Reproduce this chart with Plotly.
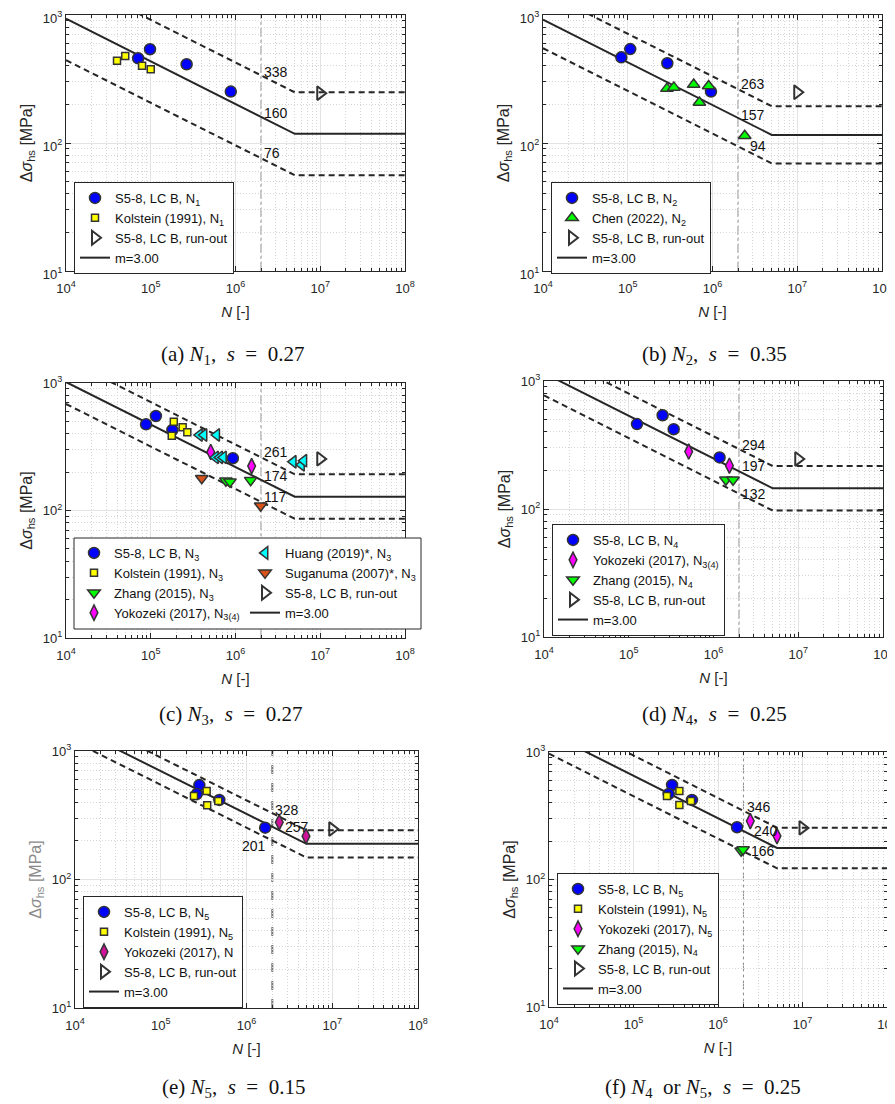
import math
import plotly.graph_objects as go

# The page body has an 8px default margin, so the figure is drawn 8px in from the top-left.
PAGE_W, PAGE_H = 895, 1104
OFF = 8
W, H = PAGE_W - OFF, PAGE_H - OFF


def fx(px):
    return (px - OFF) / W


def fy(py):
    return 1 - (py - OFF) / H


# ---------------- shared constants ----------------
N_REF = 2e6          # reference number of cycles (detail category)
N_KNEE = 5e6         # constant-amplitude fatigue limit
M_SLOPE = 3.0
N_MIN, N_MAX = 1e4, 1e8
CURVE_N = [N_MIN, N_KNEE, N_MAX]

X_TICKS = [1e4, 1e5, 1e6, 1e7, 1e8]
X_TICKTEXT = ["10<sup>4</sup>", "10<sup>5</sup>", "10<sup>6</sup>", "10<sup>7</sup>", "10<sup>8</sup>"]
Y_TICKS = [10, 100, 1000]
Y_TICKTEXT = ["10<sup>1</sup>", "10<sup>2</sup>", "10<sup>3</sup>"]

# ---------------- panel (a) N1 ----------------
A_S58_N = [7.1e4, 9.8e4, 2.65e5, 8.8e5]
A_S58_S = [459, 540, 412, 252]
A_KOL_N = [4.0e4, 5.0e4, 7.9e4, 1.0e5]
A_KOL_S = [440, 479, 402, 377]
A_RUN_N = [1.0e7]
A_RUN_S = [245]
A_CAT = [338, 160, 76]

# ---------------- panel (b) N2 ----------------
B_S58_N = [8.4e4, 1.07e5, 2.93e5, 9.6e5]
B_S58_S = [467, 542, 420, 252]
B_CHEN_N = [2.9e5, 3.5e5, 6.0e5, 7.0e5, 9.0e5, 2.4e6]
B_CHEN_S = [266, 272, 286, 207, 279, 114]
B_RUN_N = [1.0e7]
B_RUN_S = [249]
B_CAT = [263, 157, 94]

# ---------------- panel (c) N3 ----------------
C_S58_N = [8.8e4, 1.15e5, 1.8e5, 9.3e5]
C_S58_S = [474, 551, 428, 257]
C_KOL_N = [1.87e5, 1.77e5, 2.38e5, 2.7e5]
C_KOL_S = [497, 386, 449, 410]
C_ZHANG_N = [7.7e5, 8.6e5, 1.51e6]
C_ZHANG_S = [171, 168, 173]
C_YOKO_N = [5.1e5, 1.55e6]
C_YOKO_S = [288, 223]
C_HUANG_N = [3.75e5, 4.25e5, 6.0e5, 5.8e5, 6.5e5, 7.2e5, 4.8e6, 6.0e6, 6.4e6]
C_HUANG_S = [391, 391, 391, 261, 261, 261, 241, 228, 246]
C_SUGA_N = [4.0e5, 1.98e6]
C_SUGA_S = [179, 109]
C_RUN_N = [1.0e7]
C_RUN_S = [254]
C_CAT = [261, 174, 117]

# ---------------- panel (d) N4 ----------------
D_S58_N = [1.25e5, 2.51e5, 3.39e5, 1.18e6]
D_S58_S = [461, 540, 420, 253]
D_YOKO_N = [5.1e5, 1.54e6]
D_YOKO_S = [281, 218]
D_ZHANG_N = [1.40e6, 1.70e6]
D_ZHANG_S = [169, 169]
D_RUN_N = [1.0e7]
D_RUN_S = [246]
D_CAT = [294, 197, 132]

# ---------------- panel (e) N5 ----------------
E_S58_N = [2.82e5, 2.63e5, 4.82e5, 1.65e6]
E_S58_S = [543, 462, 416, 253]
E_KOL_N = [2.44e5, 3.43e5, 3.48e5, 4.69e5]
E_KOL_S = [447, 489, 379, 408]
E_YOKO_N = [2.41e6, 4.94e6]
E_YOKO_S = [279, 217]
E_RUN_N = [1.0e7]
E_RUN_S = [247]
E_CAT = [328, 257, 201]

# ---------------- panel (f) N4 or N5 ----------------
F_S58_N = [2.86e5, 2.61e5, 4.92e5, 1.68e6]
F_S58_S = [551, 469, 421, 257]
F_KOL_N = [2.49e5, 3.49e5, 3.49e5, 4.79e5]
F_KOL_S = [452, 494, 384, 413]
F_YOKO_N = [2.41e6, 4.99e6]
F_YOKO_S = [287, 219]
F_ZHANG_N = [1.88e6, 1.98e6]
F_ZHANG_S = [168, 172]
F_RUN_N = [1.0e7]
F_RUN_S = [254]
F_CAT = [346, 240, 166]

# ---------------- styles ----------------
EDGE = dict(color="#333333", width=1.5)
STY = {
    "S58": dict(symbol="circle", size=11, color="#0000FF", line=EDGE),
    "KOL": dict(symbol="square", size=7, color="#FFFF00", line=EDGE),
    "CHEN": dict(symbol="triangle-up", size=11, color="#00FF00", line=EDGE),
    "ZHANG": dict(symbol="triangle-down", size=11, color="#00FF00", line=EDGE),
    "YOKO": dict(symbol="diamond-tall", size=11, color="#FF00FF", line=EDGE),
    "YOKO_E": dict(symbol="diamond-tall", size=11, color="#D1139B", line=EDGE),
    "HUANG": dict(symbol="triangle-left", size=11, color="#00FFFF", line=EDGE),
    "SUGA": dict(symbol="triangle-down", size=11, color="#D95319", line=EDGE),
    "RUN": dict(symbol="triangle-right-open", size=12, color="#333333", line=dict(color="#333333", width=2)),
}

RUN_NAME = "S5-8, LC B, run-out"
MEAN_NAME = "m=3.00"
SP = "\u00a0"

PANELS = [
    dict(geom=(66, 405, 15, 271), cat=A_CAT, ylab_shift=3,
         series=[("S58", A_S58_N, A_S58_S, "S5-8, LC B, N<sub>1</sub>", "legend"),
                 ("KOL", A_KOL_N, A_KOL_S, "Kolstein (1991), N<sub>1</sub>", "legend"),
                 ("RUN", A_RUN_N, A_RUN_S, RUN_NAME, "legend")],
         mean_leg="legend",
         lab=[(1, 3, "left"), (1, 4, "left"), (1, 5, "left")],
         cap=f"(a) <i>N</i><sub>1</sub>,{SP}{SP}<i>s</i>{SP}{SP}={SP}{SP}0.27", cap_pos=(232, 355),
         vline=dict(color="#8c8c8c", width=1, dash="dashdot"), ytitle_color="#262626"),
    dict(geom=(543, 882, 15, 271), cat=B_CAT, ylab_shift=3,
         series=[("S58", B_S58_N, B_S58_S, "S5-8, LC B, N<sub>2</sub>", "legend2"),
                 ("CHEN", B_CHEN_N, B_CHEN_S, "Chen (2022), N<sub>2</sub>", "legend2"),
                 ("RUN", B_RUN_N, B_RUN_S, RUN_NAME, "legend2")],
         mean_leg="legend2",
         lab=[(1, 5, "left"), (1, 3, "left"), (10, 0, "left")],
         cap=f"(b) <i>N</i><sub>2</sub>,{SP}{SP}<i>s</i>{SP}{SP}={SP}{SP}0.35", cap_pos=(714, 355),
         vline=dict(color="#8c8c8c", width=1, dash="dashdot"), ytitle_color="#262626"),
    dict(geom=(66, 405, 383, 638), cat=C_CAT, ylab_shift=0,
         series=[("S58", C_S58_N, C_S58_S, "S5-8, LC B, N<sub>3</sub>", "legend3"),
                 ("KOL", C_KOL_N, C_KOL_S, "Kolstein (1991), N<sub>3</sub>", "legend3"),
                 ("ZHANG", C_ZHANG_N, C_ZHANG_S, "Zhang (2015), N<sub>3</sub>", "legend3"),
                 ("YOKO", C_YOKO_N, C_YOKO_S, "Yokozeki (2017), N<sub>3(4)</sub>", "legend3"),
                 ("HUANG", C_HUANG_N, C_HUANG_S, "Huang (2019)*, N<sub>3</sub>", "legend4"),
                 ("SUGA", C_SUGA_N, C_SUGA_S, "Suganuma (2007)*, N<sub>3</sub>", "legend4"),
                 ("RUN", C_RUN_N, C_RUN_S, RUN_NAME, "legend4")],
         mean_leg="legend4",
         lab=[(1, 5, "left"), (1, 4, "left"), (1, 5, "left")],
         cap=f"(c) <i>N</i><sub>3</sub>,{SP}{SP}<i>s</i>{SP}{SP}={SP}{SP}0.27", cap_pos=(230, 715),
         vline=dict(color="#8c8c8c", width=1, dash="dashdot"), ytitle_color="#262626"),
    dict(geom=(544, 883, 381, 637), cat=D_CAT, ylab_shift=0,
         series=[("S58", D_S58_N, D_S58_S, "S5-8, LC B, N<sub>4</sub>", "legend5"),
                 ("YOKO", D_YOKO_N, D_YOKO_S, "Yokozeki (2017), N<sub>3(4)</sub>", "legend5"),
                 ("ZHANG", D_ZHANG_N, D_ZHANG_S, "Zhang (2015), N<sub>4</sub>", "legend5"),
                 ("RUN", D_RUN_N, D_RUN_S, RUN_NAME, "legend5")],
         mean_leg="legend5",
         lab=[(1, 4, "left"), (1, 5, "left"), (1, 0, "left")],
         cap=f"(d) <i>N</i><sub>4</sub>,{SP}{SP}<i>s</i>{SP}{SP}={SP}{SP}0.25", cap_pos=(714, 715),
         vline=dict(color="#8c8c8c", width=1, dash="dashdot"), ytitle_color="#262626"),
    dict(geom=(75, 418, 751, 1008), cat=E_CAT, ylab_shift=0,
         series=[("S58", E_S58_N, E_S58_S, "S5-8, LC B, N<sub>5</sub>", "legend6"),
                 ("KOL", E_KOL_N, E_KOL_S, "Kolstein (1991), N<sub>5</sub>", "legend6"),
                 ("YOKO_E", E_YOKO_N, E_YOKO_S, "Yokozeki (2017), N", "legend6"),
                 ("RUN", E_RUN_N, E_RUN_S, RUN_NAME, "legend6")],
         mean_leg="legend6",
         lab=[(1, 3, "left"), (11, 0, "left"), (-4, -5, "right")],
         cap=f"(e) <i>N</i><sub>5</sub>,{SP}{SP}<i>s</i>{SP}{SP}={SP}{SP}0.15", cap_pos=(233, 1088),
         vline=dict(color="#777777", width=2, dash="dash"), ytitle_color="#8a8a8a"),
    dict(geom=(549, 887, 752, 1007), cat=F_CAT, ylab_shift=0,
         series=[("S58", F_S58_N, F_S58_S, "S5-8, LC B, N<sub>5</sub>", "legend7"),
                 ("KOL", F_KOL_N, F_KOL_S, "Kolstein (1991), N<sub>5</sub>", "legend7"),
                 ("YOKO", F_YOKO_N, F_YOKO_S, "Yokozeki (2017), N<sub>5</sub>", "legend7"),
                 ("ZHANG", F_ZHANG_N, F_ZHANG_S, "Zhang (2015), N<sub>4</sub>", "legend7"),
                 ("RUN", F_RUN_N, F_RUN_S, RUN_NAME, "legend7")],
         mean_leg="legend7",
         lab=[(2, 4, "left"), (9, 0, "left"), (6, 0, "left")],
         cap=f"(f) <i>N</i><sub>4</sub>{SP}{SP}or{SP}<i>N</i><sub>5</sub>,{SP}{SP}<i>s</i>{SP}{SP}={SP}{SP}0.25",
         cap_pos=(703, 1088),
         vline=dict(color="#8c8c8c", width=1, dash="dashdot"), ytitle_color="#262626"),
]

# legend boxes: top-left pixel positions (page pixels)
LEGEND_POS = {
    "legend": (74, 182), "legend2": (551, 182),
    "legend3": (74, 538), "legend4": (245, 538),
    "legend5": (552, 524), "legend6": (83, 896), "legend7": (557, 873),
}


def sn_curve(v):
    out = []
    for n in CURVE_N:
        nn = min(n, N_KNEE)
        out.append(v * (N_REF / nn) ** (1.0 / M_SLOPE))
    return out


fig = go.Figure()
shapes, annotations = [], []
layout = {}

MINOR_X = [k * 10 ** e for e in range(4, 8) for k in range(2, 10)]
MINOR_Y = [k * 10 ** e for e in range(1, 3) for k in range(2, 10)]

for i, p in enumerate(PANELS, start=1):
    xa = "x" if i == 1 else f"x{i}"
    ya = "y" if i == 1 else f"y{i}"
    x0, x1, y0, y1 = p["geom"]

    upper, mean, lower = p["cat"]
    for v in (upper, lower):
        fig.add_trace(go.Scatter(x=CURVE_N, y=sn_curve(v), mode="lines", xaxis=xa, yaxis=ya,
                                 line=dict(color="#262626", width=2, dash="6px,4px"),
                                 showlegend=False, hoverinfo="skip"))
    fig.add_trace(go.Scatter(x=CURVE_N, y=sn_curve(mean), mode="lines", xaxis=xa, yaxis=ya,
                             name=MEAN_NAME, legend=p["mean_leg"], legendrank=900,
                             line=dict(color="#262626", width=2), showlegend=True, hoverinfo="skip"))

    for r, (key, nx, sy, name, leg) in enumerate(p["series"]):
        st = STY[key]
        fig.add_trace(go.Scatter(x=nx, y=sy, mode="markers", xaxis=xa, yaxis=ya,
                                 name=name, legend=leg, legendrank=100 + r,
                                 marker=dict(symbol=st["symbol"], size=st["size"], color=st["color"], line=st["line"]),
                                 showlegend=True))

    shapes.append(dict(type="line", xref=xa, yref=f"{ya} domain", x0=N_REF, x1=N_REF, y0=0, y1=1,
                       line=p["vline"], layer="below"))

    for v, (dx, dy, anc) in zip(p["cat"], p["lab"]):
        annotations.append(dict(x=math.log10(N_REF), y=math.log10(v), xref=xa, yref=ya, text=str(v),
                                showarrow=False, xanchor=anc, yanchor="middle", xshift=dx, yshift=dy,
                                font=dict(family="Liberation Sans", size=14, color="#111111")))

    cx, cy = p["cap_pos"]
    annotations.append(dict(x=fx(cx), y=fy(cy), xref="paper", yref="paper", text=p["cap"],
                            showarrow=False, xanchor="center", yanchor="middle",
                            font=dict(family="Liberation Serif", size=21, color="#111111")))

    tickfont = dict(family="Liberation Sans", size=13, color="#262626")
    common = dict(type="log", showline=True, linecolor="#262626", linewidth=1, mirror="ticks",
                  ticks="inside", ticklen=5, tickcolor="#262626", tickwidth=1,
                  showgrid=True, gridcolor="#e3e3e3", gridwidth=1, zeroline=False,
                  tickfont=tickfont, automargin=False, tickmode="array", ticklabeloverflow="allow")
    minor_style = dict(ticks="inside", ticklen=3, tickcolor="#262626",
                       showgrid=True, gridcolor="#d6d6d6", griddash="1px,2px", gridwidth=1)
    layout["xaxis" if i == 1 else f"xaxis{i}"] = dict(
        common, domain=[fx(x0), fx(x1)], range=[4, 8], anchor=ya,
        tickvals=X_TICKS, ticktext=X_TICKTEXT, ticklabelstandoff=5,
        minor=dict(minor_style, tickvals=MINOR_X),
        title=dict(text="<i>N</i> [-]", standoff=11,
                   font=dict(family="Liberation Sans", size=15, color="#262626")))
    layout["yaxis" if i == 1 else f"yaxis{i}"] = dict(
        common, domain=[fy(y1), fy(y0)], range=[1, 3], anchor=xa,
        tickvals=Y_TICKS, ticktext=Y_TICKTEXT, ticklabelshift=p["ylab_shift"],
        minor=dict(minor_style, tickvals=MINOR_Y),
        title=dict(text="Δ<i>σ</i><sub>hs</sub> [MPa]", standoff=6,
                   font=dict(family="Liberation Sans", size=16, color=p["ytitle_color"])))

for lid, (lx, ly) in LEGEND_POS.items():
    boxed = lid not in ("legend3", "legend4")
    layout[lid] = dict(x=fx(lx), y=fy(ly), xanchor="left", yanchor="top",
                       bgcolor="white" if boxed else "rgba(255,255,255,0)",
                       bordercolor="#262626", borderwidth=1 if boxed else 0,
                       font=dict(family="Liberation Sans", size=13, color="#111111"),
                       traceorder="normal", tracegroupgap=0, itemwidth=30)

# frame around the two-column legend of panel (c)
shapes.append(dict(type="rect", xref="paper", yref="paper", x0=fx(74), x1=fx(421),
                   y0=fy(629), y1=fy(538), line=dict(color="#262626", width=1),
                   fillcolor="white", layer="above"))

fig.update_layout(width=W, height=H, margin=dict(l=0, r=0, t=0, b=0),
                  paper_bgcolor="white", plot_bgcolor="white",
                  shapes=shapes, annotations=annotations, **layout)

fig.write_html("out.html")
